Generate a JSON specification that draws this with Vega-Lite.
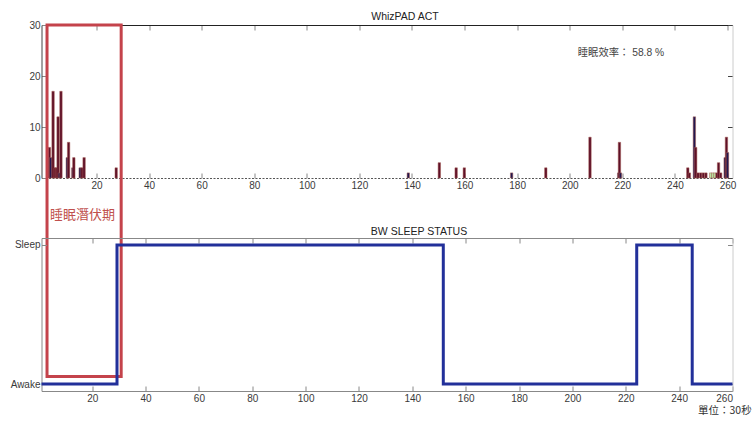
{
  "$schema": "https://vega.github.io/schema/vega-lite/v6.json",
  "background": "white",
  "padding": {"left": 9.5, "top": 11, "right": 0, "bottom": 0},
  "bounds": "flush",
  "spacing": 60,
  "config": {
    "font": "Liberation Sans",
    "view": {"stroke": null},
    "axis": {
      "grid": false,
      "labelFont": "Liberation Sans",
      "labelFontSize": 10,
      "labelColor": "#3a3a3a",
      "tickColor": "#888",
      "domainColor": "#888",
      "tickSize": -5,
      "title": null
    },
    "axisX": {"labelPadding": 7.5},
    "axisY": {"labelPadding": 6.5},
    "title": {"font": "Liberation Sans", "fontSize": 10.5, "fontWeight": "normal", "color": "#222", "offset": -2}
  },
  "datasets": {
    "act": [
      {"t": 2.1, "v": 6, "s": "m"},
      {"t": 2.6, "v": 4, "s": "n"},
      {"t": 3.5, "v": 17, "s": "m"},
      {"t": 4.3, "v": 2, "s": "m"},
      {"t": 4.8, "v": 2, "s": "m"},
      {"t": 5.4, "v": 12, "s": "m"},
      {"t": 5.9, "v": 1, "s": "n"},
      {"t": 6.5, "v": 17, "s": "m"},
      {"t": 8.9, "v": 4, "s": "n"},
      {"t": 9.4, "v": 7, "s": "m"},
      {"t": 11.0, "v": 2, "s": "n"},
      {"t": 11.4, "v": 4, "s": "m"},
      {"t": 13.8, "v": 2, "s": "n"},
      {"t": 14.5, "v": 2, "s": "m"},
      {"t": 15.3, "v": 4, "s": "m"},
      {"t": 27.5, "v": 2, "s": "m"},
      {"t": 138.6, "v": 1, "s": "n"},
      {"t": 150.4, "v": 3, "s": "m"},
      {"t": 156.8, "v": 2, "s": "m"},
      {"t": 159.9, "v": 2, "s": "m"},
      {"t": 177.9, "v": 1, "s": "n"},
      {"t": 190.9, "v": 2, "s": "m"},
      {"t": 207.7, "v": 8, "s": "m"},
      {"t": 218.6, "v": 1, "s": "n"},
      {"t": 218.9, "v": 7, "s": "m"},
      {"t": 219.3, "v": 1, "s": "n"},
      {"t": 244.9, "v": 2, "s": "m"},
      {"t": 245.5, "v": 1, "s": "m"},
      {"t": 247.4, "v": 12, "s": "n"},
      {"t": 247.9, "v": 6, "s": "m"},
      {"t": 248.8, "v": 1, "s": "m"},
      {"t": 249.8, "v": 1, "s": "m"},
      {"t": 250.8, "v": 1, "s": "m"},
      {"t": 251.8, "v": 1, "s": "m"},
      {"t": 253.6, "v": 1, "s": "g"},
      {"t": 254.4, "v": 1, "s": "g"},
      {"t": 255.2, "v": 1, "s": "g"},
      {"t": 256.0, "v": 1, "s": "m"},
      {"t": 256.6, "v": 3, "s": "m"},
      {"t": 257.4, "v": 1, "s": "m"},
      {"t": 259.1, "v": 4, "s": "n"},
      {"t": 259.6, "v": 8, "s": "m"},
      {"t": 260.0, "v": 5, "s": "n"}
    ],
    "status": [
      {"t": 1, "state": 0},
      {"t": 29.3, "state": 1},
      {"t": 151.6, "state": 0},
      {"t": 224.1, "state": 1},
      {"t": 244.9, "state": 0},
      {"t": 260, "state": 0}
    ]
  },
  "vconcat": [
    {
      "width": 691,
      "height": 153,
      "title": {"text": "WhizPAD ACT", "dx": 18},
      "resolve": {"axis": {"x": "independent", "y": "independent"}},
      "layer": [
        {
          "data": {"name": "act"},
          "mark": {"type": "bar", "size": 2.4, "stroke": "#a45a52", "strokeWidth": 0.5},
          "encoding": {
            "x": {
              "field": "t", "type": "quantitative",
              "scale": {"domain": [1, 260], "nice": false, "zero": false},
              "axis": {
                "values": [20, 40, 60, 80, 100, 120, 140, 160, 180, 200, 220, 240, 260],
                "domainColor": "#555", "domainDash": [2, 1.5],
                "title": "睡眠潛伏期",
                "titleFont": "Noto Sans CJK TC", "titleFontSize": 13, "titleFontWeight": "normal",
                "titleColor": "#c0504d", "titleAlign": "left", "titleBaseline": "middle",
                "titleX": 8, "titleY": 36
              }
            },
            "y": {
              "field": "v", "type": "quantitative",
              "scale": {"domain": [0, 30], "nice": false},
              "axis": {"values": [0, 10, 20, 30], "domainColor": "#444"}
            },
            "color": {
              "field": "s", "type": "nominal",
              "scale": {"domain": ["m", "n", "g"], "range": ["#5e1028", "#22184f", "#b9e6a4"]},
              "legend": null
            }
          }
        },
        {
          "data": {"name": "act"},
          "mark": {"type": "point", "opacity": 0},
          "encoding": {
            "x": {
              "field": "t", "type": "quantitative",
              "axis": {"orient": "top", "labels": false, "values": [20, 40, 60, 80, 100, 120, 140, 160, 180, 200, 220, 240, 260], "domainColor": "#222"}
            },
            "y": {
              "field": "v", "type": "quantitative",
              "axis": {"orient": "right", "labels": false, "values": [0, 10, 20, 30], "domainColor": "#ccc", "tickColor": "#444"}
            }
          }
        },
        {
          "data": {"values": [{}]},
          "mark": {"type": "text", "text": "睡眠效率： 58.8 %", "font": "Liberation Sans, Noto Sans CJK TC", "fontSize": 10.3, "fontWeight": "normal", "color": "#444", "align": "center"},
          "encoding": {
            "x": {"datum": 219.5, "type": "quantitative", "axis": null},
            "y": {"datum": 24.6, "type": "quantitative", "axis": null}
          }
        },
        {
          "data": {"values": [{}]},
          "mark": {"type": "rect", "fill": null, "fillOpacity": 0, "stroke": "#c4434b", "strokeWidth": 3, "clip": false},
          "encoding": {
            "x": {"datum": 1.2, "type": "quantitative", "axis": null},
            "x2": {"datum": 29.4},
            "y": {"datum": 30, "type": "quantitative", "axis": null},
            "y2": {"datum": -38.9}
          }
        }
      ]
    },
    {
      "width": 691,
      "height": 153,
      "title": {"text": "BW SLEEP STATUS", "dx": 32, "offset": 0},
      "data": {"name": "status"},
      "resolve": {"axis": {"x": "independent", "y": "independent"}},
      "layer": [
        {
          "mark": {"type": "line", "interpolate": "step-after", "color": "#22309a", "strokeWidth": 3},
          "encoding": {
            "x": {
              "field": "t", "type": "quantitative",
              "scale": {"domain": [1, 260], "nice": false, "zero": false},
              "axis": {
                "values": [20, 40, 60, 80, 100, 120, 140, 160, 180, 200, 220, 240, 260],
                "title": "單位：30秒",
                "titleFont": "Noto Sans CJK TC", "titleFontSize": 10.5, "titleFontWeight": "normal",
                "titleColor": "#333", "titleAlign": "left", "titleBaseline": "middle",
                "titleX": 656, "titleY": 19
              }
            },
            "y": {
              "field": "state", "type": "quantitative",
              "scale": {"domain": [-0.05, 1.05], "nice": false, "zero": false},
              "axis": {"values": [0, 1], "labelExpr": "datum.value == 1 ? 'Sleep' : 'Awake'"}
            }
          }
        },
        {
          "mark": {"type": "point", "opacity": 0},
          "encoding": {
            "x": {
              "field": "t", "type": "quantitative",
              "axis": {"orient": "top", "labels": false, "values": [20, 40, 60, 80, 100, 120, 140, 160, 180, 200, 220, 240, 260]}
            },
            "y": {
              "field": "state", "type": "quantitative",
              "axis": {"orient": "right", "labels": false, "values": [0, 1], "domainColor": "#ccc"}
            }
          }
        }
      ]
    }
  ]
}
